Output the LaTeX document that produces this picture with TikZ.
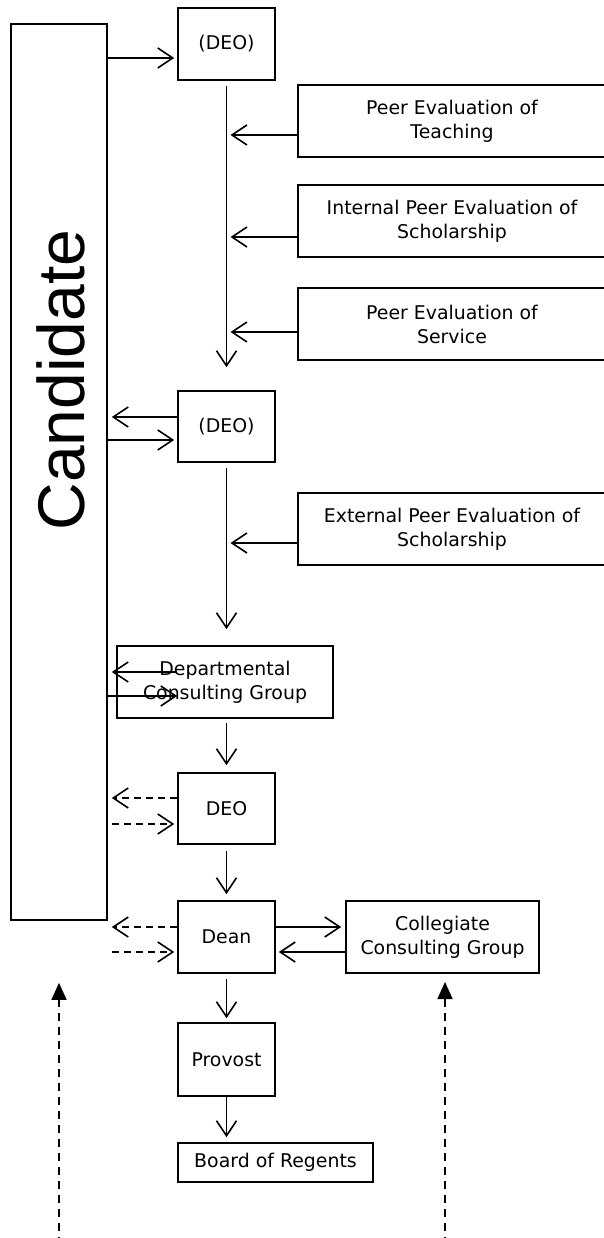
\documentclass[tikz,border=0pt]{standalone}
\usepackage{fontspec}
\setmainfont{DejaVu Sans}
\newfontfamily\candfont{Liberation Sans}
\usetikzlibrary{arrows.meta,calc}
\begin{document}
\begin{tikzpicture}[x=1pt,y=-1pt,
  box/.style={draw, line width=1.7pt, inner sep=0pt, align=center, font=\fontsize{18.9}{24}\selectfont},
  arr/.style={line width=1.6pt, -{Straight Barb[length=15pt,width=20pt,line width=1.6pt]}},
  darr/.style={arr, dash pattern=on 7pt off 5pt},
  uparr/.style={line width=1.6pt, dash pattern=on 8pt off 6pt, -{Triangle[length=17pt,width=15pt]}}]
\useasboundingbox (0,0) rectangle (603,1238);
% nodes
\node[box, minimum width=96pt, minimum height=896pt] (cand) at (59,472) {};
\node[rotate=90, inner sep=0pt, font=\candfont\fontsize{66}{66}\selectfont] (candtxt) at (61,380) {Candidate};
\node[box, minimum width=97pt, minimum height=72pt] (deo1) at (226.5,44) {(DEO)};
\node[box, minimum width=308pt, minimum height=72pt] (peer1) at (452,121) {Peer Evaluation of\\Teaching};
\node[box, minimum width=308pt, minimum height=72pt] (peer2) at (452,221) {Internal Peer Evaluation of\\Scholarship};
\node[box, minimum width=308pt, minimum height=72pt] (peer3) at (452,324) {Peer Evaluation of\\Service};
\node[box, minimum width=97pt, minimum height=71pt] (deo2) at (226.5,426.5) {(DEO)};
\node[box, minimum width=308pt, minimum height=72pt] (ext) at (452,529) {External Peer Evaluation of\\Scholarship};
\node[box, minimum width=216pt, minimum height=72pt] (dcg) at (225,682) {Departmental\\Consulting Group};
\node[box, minimum width=97pt, minimum height=71pt] (deo3) at (226.5,808.5) {DEO};
\node[box, minimum width=97pt, minimum height=72pt] (dean) at (226.5,937) {Dean};
\node[box, minimum width=193pt, minimum height=72pt] (ccg) at (442.5,937) {Collegiate\\Consulting Group};
\node[box, minimum width=97pt, minimum height=73pt] (prov) at (226.5,1059.5) {Provost};
\node[box, minimum width=195pt, minimum height=39pt] (bor) at (275.5,1162.5) {Board of Regents};
\coordinate (lb) at (59,1245);
\coordinate (rb) at (445,1245);
% connectors
\draw[arr, shorten >=3pt] (cand.east |- 0,58) -- (deo1.west |- 0,58);
\draw[arr, shorten <=5pt, shorten >=23pt] (deo1.south) -- (deo2.north);
\draw[arr, shorten >=4pt] (peer1.west |- 0,135) -- (deo1.south |- 0,135);
\draw[arr, shorten >=4pt] (peer2.west |- 0,237) -- (deo1.south |- 0,237);
\draw[arr, shorten >=4pt] (peer3.west |- 0,332) -- (deo1.south |- 0,332);
\draw[arr, shorten >=4pt] (deo2.west |- 0,417) -- (cand.east |- 0,417);
\draw[arr, shorten >=3pt] (cand.east |- 0,440) -- (deo2.west |- 0,440);
\draw[arr, shorten <=5pt, shorten >=16pt] (deo2.south) -- (deo2.south |- dcg.north);
\draw[arr, shorten >=4pt] (ext.west |- 0,543) -- (deo2.south |- 0,543);
\draw[arr, shorten >=4pt] (deo3.west |- 0,672) -- (cand.east |- 0,672);
\draw[arr] (cand.east |- 0,696) -- (deo3.west |- 0,696);
\draw[arr, shorten <=4pt, shorten >=7pt] (deo3.north |- dcg.south) -- (deo3.north);
\draw[darr, shorten >=4pt] (deo3.west |- 0,798) -- (cand.east |- 0,798);
\draw[darr, shorten <=4pt, shorten >=3pt] (cand.east |- 0,824) -- (deo3.west |- 0,824);
\draw[arr, shorten <=6pt, shorten >=6pt] (deo3.south) -- (dean.north);
\draw[darr, shorten >=4pt] (dean.west |- 0,927) -- (cand.east |- 0,927);
\draw[darr, shorten <=4pt, shorten >=3pt] (cand.east |- 0,952) -- (dean.west |- 0,952);
\draw[arr, shorten >=4pt] (dean.east |- 0,927) -- (ccg.west |- 0,927);
\draw[arr, shorten >=3pt] (ccg.west |- 0,952) -- (dean.east |- 0,952);
\draw[arr, shorten <=5pt, shorten >=4pt] (dean.south) -- (prov.north);
\draw[arr, shorten >=5pt] (prov.south) -- (prov.south |- bor.north);
\draw[uparr] (lb) -- ([yshift=-62pt]cand.south);
\draw[uparr] (rb) -- (rb |- 0,982);
\end{tikzpicture}
\end{document}
